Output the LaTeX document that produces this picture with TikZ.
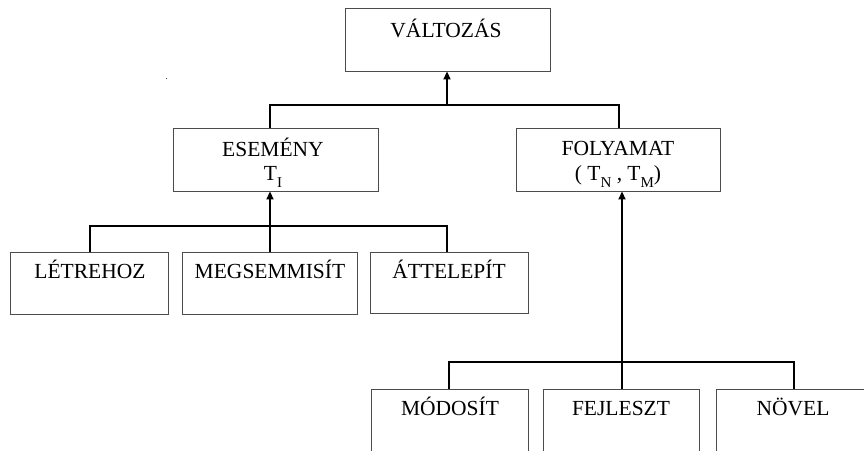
\documentclass[tikz,border=0pt]{standalone}
\usepackage{fontspec}
\setmainfont{Liberation Serif}
\usetikzlibrary{arrows.meta}
\newcommand{\sbs}[1]{\raisebox{-0.33em}{\fontsize{15}{16}\selectfont #1}}
\begin{document}
\begin{tikzpicture}[x=1pt,y=-1pt,
  boxnode/.style={draw=black!70,line width=0.9pt,rectangle,inner sep=0pt},
  lbl/.style={anchor=base,inner sep=0pt,font=\fontsize{21.5}{25}\selectfont},
  conn/.style={line width=1.7pt,black},
  arr/.style={conn,-{Triangle[width=7pt,length=8pt]}}]
\useasboundingbox (0,0) rectangle (864,450);
\clip (0,0) rectangle (864,450);
% boxes
\node[boxnode,minimum width=205pt,minimum height=63pt] (vt) at (447.5,39.5) {};
\node[boxnode,minimum width=205pt,minimum height=63pt] (es) at (275.5,159.5) {};
\node[boxnode,minimum width=204pt,minimum height=63pt] (fo) at (618,159.5) {};
\node[boxnode,minimum width=158pt,minimum height=62pt] (le) at (89,283) {};
\node[boxnode,minimum width=175pt,minimum height=62pt] (me) at (269.5,283) {};
\node[boxnode,minimum width=158pt,minimum height=61pt] (at) at (449,282.5) {};
\node[boxnode,minimum width=157pt,minimum height=80pt] (mo) at (449.5,429) {};
\node[boxnode,minimum width=156pt,minimum height=80pt] (fe) at (621,429) {};
\node[boxnode,minimum width=154pt,minimum height=80pt] (no) at (793,429) {};
% labels
\node[lbl] (tvt) at (446,37) {VÁLTOZÁS};
\node[lbl] (tes) at (273,156) {ESEMÉNY};
\node[lbl] (tes2) at (273,180) {T\sbs{I}};
\node[lbl] (tfo) at (618,155) {FOLYAMAT};
\node[lbl] (tfo2) at (618,180) {( T\sbs{N} , T\sbs{M})};
\node[lbl] (tle) at (90,278) {LÉTREHOZ};
\node[lbl] (tme) at (270,278) {MEGSEMMISÍT};
\node[lbl] (tat) at (449,278) {ÁTTELEPÍT};
\node[lbl] (tmo) at (450,415) {MÓDOSÍT};
\node[lbl] (tfe) at (621,415) {FEJLESZT};
\node[lbl] (tno) at (793,415) {NÖVEL};
% junction coordinates
\coordinate (j1) at (447,105);
\coordinate (c1a) at (270,0);
\coordinate (c1b) at (619,0);
\coordinate (j2) at (270,226);
\coordinate (c2a) at (90,0);
\coordinate (c2b) at (447,0);
\coordinate (j3) at (622,362);
\coordinate (c3a) at (449,0);
\coordinate (c3b) at (794,0);
% connectors
\draw[arr] (j1) -- (vt.south -| j1);
\draw[conn] (es.north -| c1a) |- (j1) -| (fo.north -| c1b);
\draw[arr] (me.north -| j2) -- (es.south -| j2);
\draw[conn] (le.north -| c2a) |- (j2) -| (at.north -| c2b);
\draw[arr] (fe.north -| j3) -- (fo.south -| j3);
\draw[conn] (mo.north -| c3a) |- (j3) -| (no.north -| c3b);
% stray dot
\fill[black!70] (165.5,77.5) rectangle (167,79);
\end{tikzpicture}
\end{document}
